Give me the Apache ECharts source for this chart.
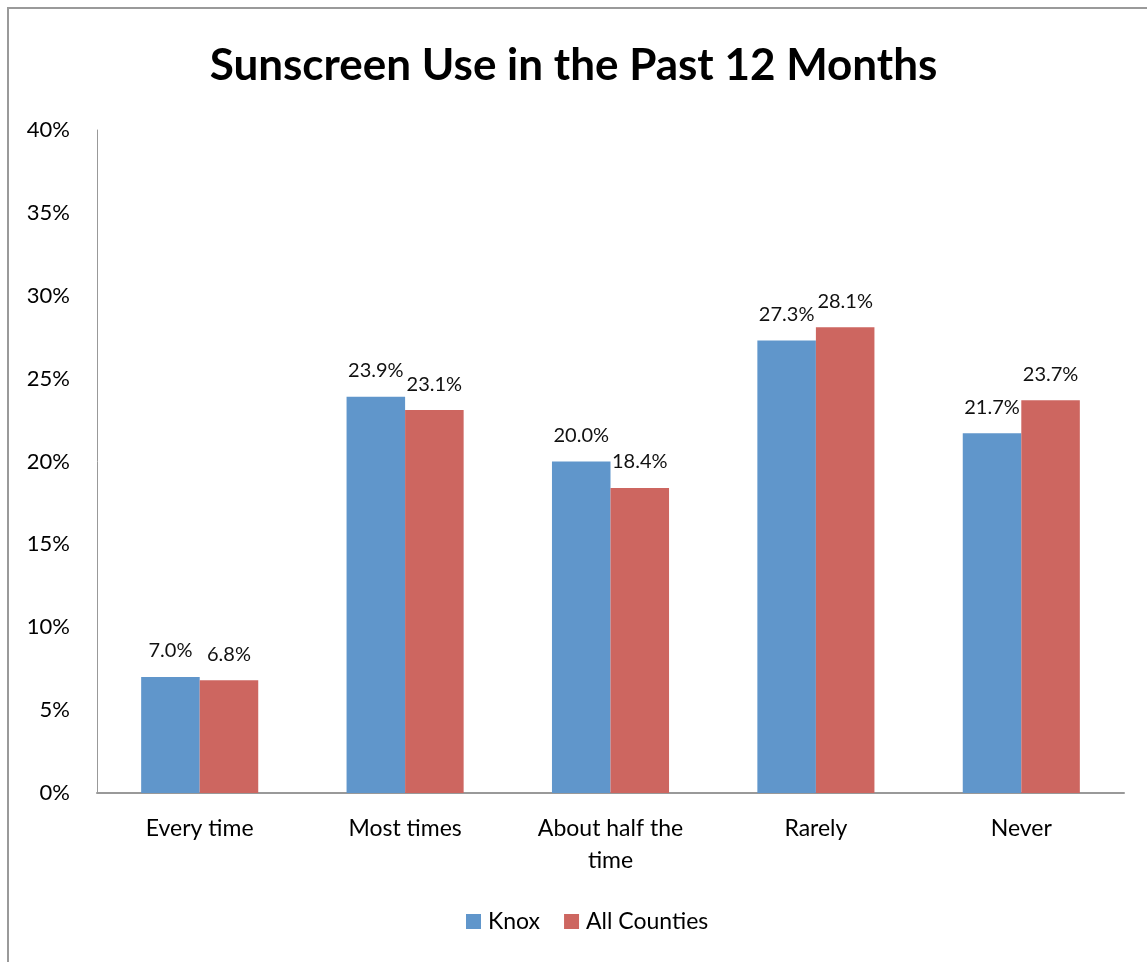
<!DOCTYPE html>
<html>
<head>
<meta charset="utf-8">
<script src="https://cdn.jsdelivr.net/npm/echarts@6/dist/echarts.min.js"></script>
<style>
  html, body { margin: 0; padding: 0; background: #fff; }
  #frame { position: absolute; left: 7px; top: 7px; width: 1140px; height: 955px;
           border-left: 2px solid #9a9a9a; border-top: 2px solid #9a9a9a; }
  #chart { position: absolute; left: 0; top: 0; width: 1147px; height: 962px; }
</style>
</head>
<body>
<div id="frame"></div>
<div id="chart"></div>
<script>
// categories and values
const categories = ["Every time", "Most times", "About half the\ntime", "Rarely", "Never"];
const knox = [7.0, 23.9, 20.0, 27.3, 21.7];
const allCounties = [6.8, 23.1, 18.4, 28.1, 23.7];
const seriesNames = ["Knox", "All Counties"];

const font = "Lato, 'Open Sans', sans-serif";
const chart = echarts.init(document.getElementById("chart"));

function barSeries(name, data, color) {
  return {
    name: name,
    type: "bar",
    data: data,
    barGap: "0%",
    barCategoryGap: "43%",
    itemStyle: { color: color },
    label: {
      show: true,
      position: "top",
      distance: 16,
      color: "#111",
      fontFamily: font,
      fontSize: 20,
      formatter: (p) => p.value.toFixed(1) + "%",
    },
  };
}

chart.setOption({
  animation: false,
  title: {
    text: "Sunscreen Use in the Past 12 Months",
    left: "center",
    top: 39,
    textStyle: { fontFamily: font, fontSize: 44, fontWeight: "bold", color: "#000" },
  },
  grid: { left: 97, right: 23, top: 130, bottom: 169, containLabel: false },
  legend: {
    data: seriesNames,
    bottom: 24,
    left: 461,
    itemWidth: 15,
    itemHeight: 15,
    itemGap: 24,
    icon: "rect",
    textStyle: { fontFamily: font, fontSize: 23, color: "#000", padding: [0, 0, 0, 2] },
  },
  xAxis: {
    type: "category",
    data: categories,
    axisLine: { lineStyle: { color: "#999", width: 2 } },
    axisTick: { show: false },
    axisLabel: { fontFamily: font, fontSize: 23, color: "#000", margin: 20, lineHeight: 32 },
  },
  yAxis: {
    type: "value",
    min: 0,
    max: 40,
    interval: 5,
    axisLine: { show: true, lineStyle: { color: "#999", width: 1 } },
    axisTick: { show: false },
    splitLine: { show: false },
    axisLabel: { fontFamily: font, fontSize: 22, color: "#000", margin: 27, formatter: "{value}%" },
  },
  series: [
    barSeries(seriesNames[0], knox, "#6096CB"),
    barSeries(seriesNames[1], allCounties, "#CD6660"),
  ],
});
</script>
</body>
</html>
